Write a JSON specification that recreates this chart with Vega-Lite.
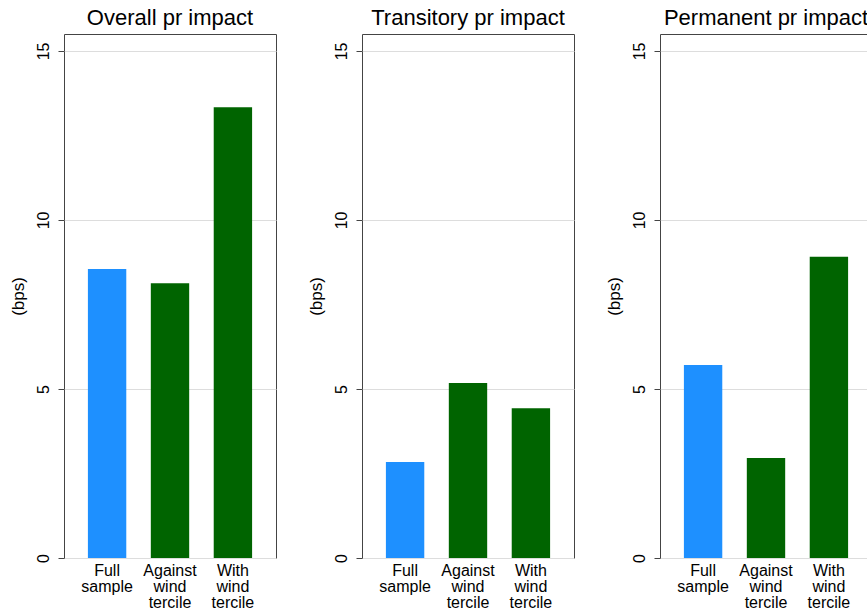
{
  "$schema": "https://vega.github.io/schema/vega-lite/v6.json",
  "padding": {"left": 8, "top": 7, "right": 5, "bottom": 5},
  "background": "white",
  "config": {
    "font": "Liberation Sans",
    "view": {"stroke": "#444", "strokeWidth": 1},
    "facet": {"spacing": 29}
  },
  "data": {"values": [
    {"panel": "Overall pr impact", "cat": "Full sample", "grp": "full", "bps": 8.55},
    {"panel": "Overall pr impact", "cat": "Against wind tercile", "grp": "wind", "bps": 8.13},
    {"panel": "Overall pr impact", "cat": "With wind tercile", "grp": "wind", "bps": 13.33},
    {"panel": "Transitory pr impact", "cat": "Full sample", "grp": "full", "bps": 2.84},
    {"panel": "Transitory pr impact", "cat": "Against wind tercile", "grp": "wind", "bps": 5.18},
    {"panel": "Transitory pr impact", "cat": "With wind tercile", "grp": "wind", "bps": 4.43},
    {"panel": "Permanent pr impact", "cat": "Full sample", "grp": "full", "bps": 5.71},
    {"panel": "Permanent pr impact", "cat": "Against wind tercile", "grp": "wind", "bps": 2.96},
    {"panel": "Permanent pr impact", "cat": "With wind tercile", "grp": "wind", "bps": 8.91}
  ]},
  "facet": {
    "column": {
      "field": "panel", "type": "nominal",
      "sort": ["Overall pr impact", "Transitory pr impact", "Permanent pr impact"],
      "title": null,
      "header": {"labelFontSize": 22, "labelColor": "black", "labelPadding": 3, "labelFont": "Liberation Sans"}
    }
  },
  "resolve": {"axis": {"y": "independent", "x": "independent"}},
  "spec": {
    "width": 212,
    "height": 524,
    "mark": {"type": "bar"},
    "encoding": {
      "x": {
        "field": "cat", "type": "nominal",
        "sort": ["Full sample", "Against wind tercile", "With wind tercile"],
        "scale": {"paddingInner": 0.39, "paddingOuter": 0.38},
        "axis": {
          "title": null, "labelAngle": 0, "ticks": false, "domain": false,
          "labelExpr": "split(datum.label, ' ')",
          "labelFontSize": 16, "labelColor": "black", "labelPadding": 4, "labelLineHeight": 16
        }
      },
      "y": {
        "field": "bps", "type": "quantitative",
        "scale": {"domain": [0, 15.5], "nice": false},
        "axis": {
          "title": "(bps)", "titleFontSize": 17, "titleFontWeight": "normal", "titleColor": "black", "titlePadding": 8,
          "values": [0, 5, 10, 15], "labelAngle": -90, "labelAlign": "center", "labelBaseline": "bottom",
          "labelFontSize": 16, "labelColor": "black", "labelPadding": 7,
          "tickSize": 6, "tickColor": "#444", "domain": false,
          "grid": true, "gridColor": "#dddddd", "gridWidth": 1
        }
      },
      "color": {
        "field": "grp", "type": "nominal",
        "scale": {"domain": ["full", "wind"], "range": ["#1E90FF", "#006400"]},
        "legend": null
      }
    }
  }
}
